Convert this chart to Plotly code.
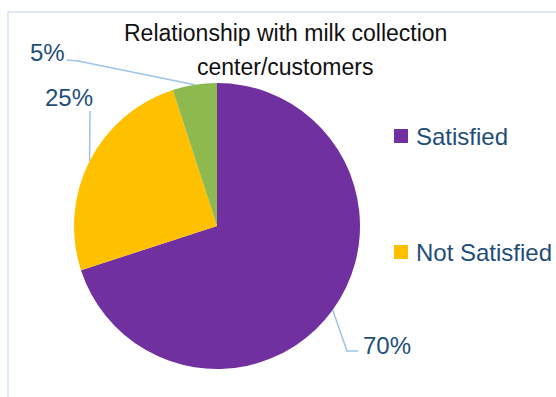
import math
import plotly.graph_objects as go

# ---- data ----
categories = ["Satisfied", "Not Satisfied", "Other"]
values = [70, 25, 5]
legend_categories = ["Satisfied", "Not Satisfied"]
title_lines = ["Relationship with milk collection", "center/customers"]

# ---- style / layout ----
W, H = 556, 397
colors = {"Satisfied": "#7030A0", "Not Satisfied": "#FFC000", "Other": "#8DB94E"}
label_color = "#1F4E79"
leader_color = "#9DC3E6"
font_family = "Liberation Sans, Arial, sans-serif"
cx, cy, r = 217, 226, 143  # pie center / radius in pixels

# label placement (pixels): text center and leader elbow points
label_layout = {
    "Satisfied": dict(text=(387, 345), elbow=[(347, 351), (358, 351)]),
    "Not Satisfied": dict(text=(69, 97), elbow=[(90, 111)]),
    "Other": dict(text=(47, 52), elbow=[(78, 61), (67, 60)]),
}
legend_pos = {"Satisfied": 136, "Not Satisfied": 252}


def px(x):
    return x / W


def py(y):
    return 1 - y / H


fig = go.Figure(
    go.Pie(
        labels=categories,
        values=values,
        sort=False,
        direction="clockwise",
        rotation=0,
        marker=dict(colors=[colors[c] for c in categories], line=dict(width=0)),
        textinfo="none",
        hoverinfo="label+percent",
        showlegend=False,
        domain=dict(x=[px(cx - r), px(cx + r)], y=[py(cy + r), py(cy - r)]),
    )
)

shapes = []
annotations = []

# chart frame (cropped)
shapes.append(dict(type="rect", xref="paper", yref="paper",
                   x0=px(8), x1=1.2, y0=-0.2, y1=py(12),
                   line=dict(color="#D6E4F2", width=1.5), fillcolor="rgba(0,0,0,0)",
                   layer="below"))

# data labels with leader lines
total = sum(values)
cum = 0
for cat, v in zip(categories, values):
    mid = (cum + v / 2) / total * 2 * math.pi
    cum += v
    ex = cx + r * math.sin(mid)
    ey = cy - r * math.cos(mid)
    pts = [(ex, ey)] + label_layout[cat]["elbow"]
    path = "M " + " L ".join(f"{px(x)},{py(y)}" for x, y in pts)
    shapes.append(dict(type="path", xref="paper", yref="paper", path=path,
                       line=dict(color=leader_color, width=1.5)))
    tx, ty = label_layout[cat]["text"]
    annotations.append(dict(text=f"{round(100 * v / total)}%", x=px(tx), y=py(ty),
                            xref="paper", yref="paper", showarrow=False,
                            xanchor="center", yanchor="middle",
                            font=dict(size=24, color=label_color, family=font_family)))

# legend
for cat in legend_categories:
    yy = legend_pos[cat]
    shapes.append(dict(type="rect", xref="paper", yref="paper",
                       x0=px(394), x1=px(408), y0=py(yy + 7), y1=py(yy - 7),
                       fillcolor=colors[cat], line=dict(width=0)))
    annotations.append(dict(text=cat, x=px(414), y=py(yy), xref="paper", yref="paper",
                            showarrow=False, xanchor="left", yanchor="middle",
                            font=dict(size=24, color=label_color, family=font_family)))

# title
for line, yy in zip(title_lines, [33, 67]):
    annotations.append(dict(text=line, x=px(285), y=py(yy), xref="paper", yref="paper",
                            showarrow=False, xanchor="center", yanchor="middle",
                            font=dict(size=23, color="#111111", family=font_family)))

fig.update_layout(
    width=W, height=H,
    margin=dict(l=0, r=0, t=0, b=0),
    paper_bgcolor="white", plot_bgcolor="white",
    shapes=shapes, annotations=annotations,
    showlegend=False,
)

fig.write_html("out.html")
